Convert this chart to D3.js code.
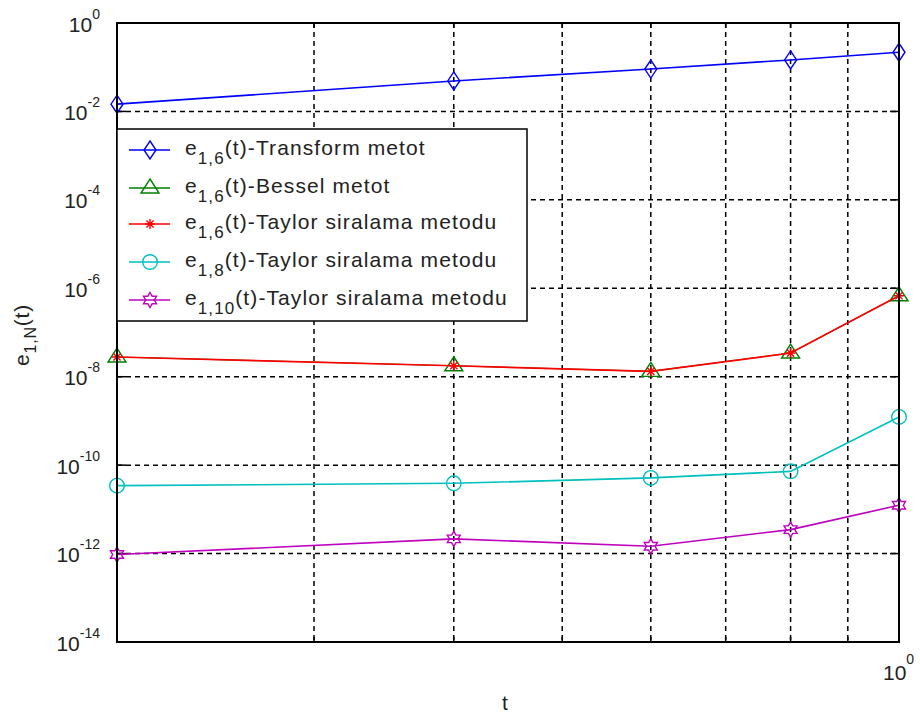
<!DOCTYPE html>
<html>
<head>
<meta charset="utf-8">
<script src="https://cdn.jsdelivr.net/npm/d3@7/dist/d3.min.js"></script>
<style>
  html, body { margin: 0; padding: 0; background: #ffffff; }
  svg { display: block; font-family: "Liberation Sans", Arial, sans-serif; }
</style>
</head>
<body>
<svg id="chart" width="920" height="720"></svg>
<script>
// Time points (t) and the error e_{1,N}(t) of each method
const tValues = [0.2, 0.4, 0.6, 0.8, 1.0];
const transformN6 = [1.46e-2, 4.89e-2, 9.1e-2, 1.46e-1, 2.18e-1];
const besselN6    = [2.79e-8, 1.77e-8, 1.32e-8, 3.43e-8, 6.77e-7];
const taylorN6    = [2.79e-8, 1.77e-8, 1.32e-8, 3.43e-8, 6.77e-7];
const taylorN8    = [3.44e-11, 3.88e-11, 5.14e-11, 7.24e-11, 1.23e-9];
const taylorN10   = [9.5e-13, 2.15e-12, 1.46e-12, 3.48e-12, 1.24e-11];

// Axis ticks and grid positions
const yTickExps = [0, -2, -4, -6, -8, -10, -12, -14];
const xGridValues = [0.3, 0.4, 0.5, 0.6, 0.7, 0.8, 0.9];
const xTickExps = [0];

// Series definitions: label pieces, colour, marker
const seriesNames = ["transform", "bessel", "taylor6", "taylor8", "taylor10"];
const seriesSubs = ["1,6", "1,6", "1,6", "1,8", "1,10"];
const seriesTexts = ["(t)-Transform metot", "(t)-Bessel metot", "(t)-Taylor siralama metodu",
                     "(t)-Taylor siralama metodu", "(t)-Taylor siralama metodu"];
const seriesColors = ["#0000ff", "#008000", "#ff0000", "#00bfbf", "#bf00bf"];
const seriesMarkers = ["diamond", "triangle", "asterisk", "circle", "hexagram"];
const seriesLineWidths = [1.6, 1.1, 1.7, 1.6, 1.6];
const seriesValues = [transformN6, besselN6, taylorN6, taylorN8, taylorN10];

const svg = d3.select("#chart");
const plot = { left: 117, right: 899, top: 23, bottom: 642 };

const x = d3.scaleLog().domain([0.2, 1]).range([plot.left, plot.right]);
const y = d3.scaleLog().domain([1e-14, 1]).range([plot.bottom, plot.top]);

const mainFont = 21, supFont = 14;

// Grid lines (dashed)
const grid = svg.append("g").attr("stroke", "#000").attr("stroke-width", 1.5)
  .attr("stroke-dasharray", "5,4").attr("fill", "none");
grid.selectAll("line.vx").data(xGridValues).join("line")
  .attr("x1", d => x(d)).attr("x2", d => x(d))
  .attr("y1", plot.top).attr("y2", plot.bottom);
grid.selectAll("line.hy").data(yTickExps.filter(e => e < 0 && e > -14)).join("line")
  .attr("x1", plot.left).attr("x2", plot.right)
  .attr("y1", d => y(Math.pow(10, d))).attr("y2", d => y(Math.pow(10, d)));

// Inward tick marks on all four sides
const ticks = svg.append("g").attr("stroke", "#000").attr("stroke-width", 1.5);
const tickLen = 9;
yTickExps.forEach(e => {
  const yy = y(Math.pow(10, e));
  ticks.append("line").attr("x1", plot.left).attr("x2", plot.left + tickLen).attr("y1", yy).attr("y2", yy);
  ticks.append("line").attr("x1", plot.right).attr("x2", plot.right - tickLen).attr("y1", yy).attr("y2", yy);
});
xGridValues.forEach(v => {
  const xx = x(v);
  ticks.append("line").attr("x1", xx).attr("x2", xx).attr("y1", plot.bottom).attr("y2", plot.bottom - 5);
  ticks.append("line").attr("x1", xx).attr("x2", xx).attr("y1", plot.top).attr("y2", plot.top + 5);
});

// Marker shapes
function markerPath(kind) {
  switch (kind) {
    case "diamond": return "M0,-9L6,0L0,9L-6,0Z";
    case "triangle": return "M0,-9L9,5L-9,5Z";
    case "asterisk": return "M-5,0L5,0M0,-5L0,5M-3.6,-3.6L3.6,3.6M-3.6,3.6L3.6,-3.6";
    case "circle": return d3.symbol(d3.symbolCircle, Math.PI * 7.3 * 7.3)();
    case "hexagram": {
      const pts = [];
      for (let i = 0; i < 12; i++) {
        const r = i % 2 === 0 ? 7.5 : 7.5 / Math.sqrt(3);
        const a = -Math.PI / 2 + i * Math.PI / 6;
        pts.push([r * Math.cos(a), r * Math.sin(a)]);
      }
      return "M" + pts.map(p => p[0].toFixed(2) + "," + p[1].toFixed(2)).join("L") + "Z";
    }
  }
}

// Data lines and markers
const line = d3.line().x(d => x(d.t)).y(d => y(d.v));
seriesNames.forEach((name, i) => {
  const pts = tValues.map((t, j) => ({ t, v: seriesValues[i][j] }));
  const g = svg.append("g").attr("class", "series-" + name);
  g.append("path").datum(pts).attr("d", line)
    .attr("fill", "none").attr("stroke", seriesColors[i]).attr("stroke-width", seriesLineWidths[i]);
  g.selectAll("path.m").data(pts).join("path").attr("class", "m")
    .attr("transform", d => `translate(${x(d.t)},${y(d.v)})`)
    .attr("d", markerPath(seriesMarkers[i]))
    .attr("fill", "none").attr("stroke", seriesColors[i]).attr("stroke-width", 1.4);
});

// Axes box
svg.append("rect").attr("x", plot.left).attr("y", plot.top)
  .attr("width", plot.right - plot.left).attr("height", plot.bottom - plot.top)
  .attr("fill", "none").attr("stroke", "#000").attr("stroke-width", 2);

// Y tick labels: 10 with superscript exponent
yTickExps.forEach(e => {
  const yy = y(Math.pow(10, e));
  const t = svg.append("text").attr("x", 100).attr("y", yy + 8.5)
    .attr("text-anchor", "end").attr("font-size", mainFont).attr("fill", "#222");
  t.append("tspan").text("10");
  t.append("tspan").attr("font-size", supFont).attr("dy", -13).text(String(e));
});

// X tick label
xTickExps.forEach(e => {
  const xx = x(Math.pow(10, e));
  const t = svg.append("text").attr("x", xx - 16).attr("y", plot.bottom + 38)
    .attr("text-anchor", "start").attr("font-size", mainFont).attr("fill", "#222");
  t.append("tspan").text("10");
  t.append("tspan").attr("font-size", supFont).attr("dy", -16).text(String(e));
});

// Axis labels
svg.append("text").attr("x", 505).attr("y", 710)
  .attr("text-anchor", "middle").attr("font-size", mainFont).attr("fill", "#222").text("t");

const yl = svg.append("text").attr("transform", "translate(29,335) rotate(-90)")
  .attr("text-anchor", "middle").attr("font-size", mainFont).attr("fill", "#222")
  .attr("letter-spacing", 0.8);
yl.append("tspan").text("e");
yl.append("tspan").attr("font-size", 16).attr("dy", 7).text("1,N");
yl.append("tspan").attr("dy", -7).text("(t)");

// Legend
const lg = svg.append("g");
lg.append("rect").attr("x", plot.left).attr("y", 129).attr("width", 410).attr("height", 192)
  .attr("fill", "#fff").attr("stroke", "#000").attr("stroke-width", 1.5);
const rowY = [150, 188, 224, 262, 300];
seriesNames.forEach((name, i) => {
  const yy = rowY[i];
  lg.append("line").attr("x1", 129).attr("x2", 170).attr("y1", yy).attr("y2", yy)
    .attr("stroke", seriesColors[i]).attr("stroke-width", 1.6);
  lg.append("path").attr("transform", `translate(150,${yy})`).attr("d", markerPath(seriesMarkers[i]))
    .attr("fill", "none").attr("stroke", seriesColors[i]).attr("stroke-width", 1.4);
  const t = lg.append("text").attr("x", 185).attr("y", yy + 5)
    .attr("font-size", mainFont).attr("fill", "#222").attr("letter-spacing", 1.1);
  t.append("tspan").text("e");
  t.append("tspan").attr("font-size", 17).attr("dy", 9).text(seriesSubs[i]);
  t.append("tspan").attr("dy", -9).text(seriesTexts[i]);
});
</script>
</body>
</html>
